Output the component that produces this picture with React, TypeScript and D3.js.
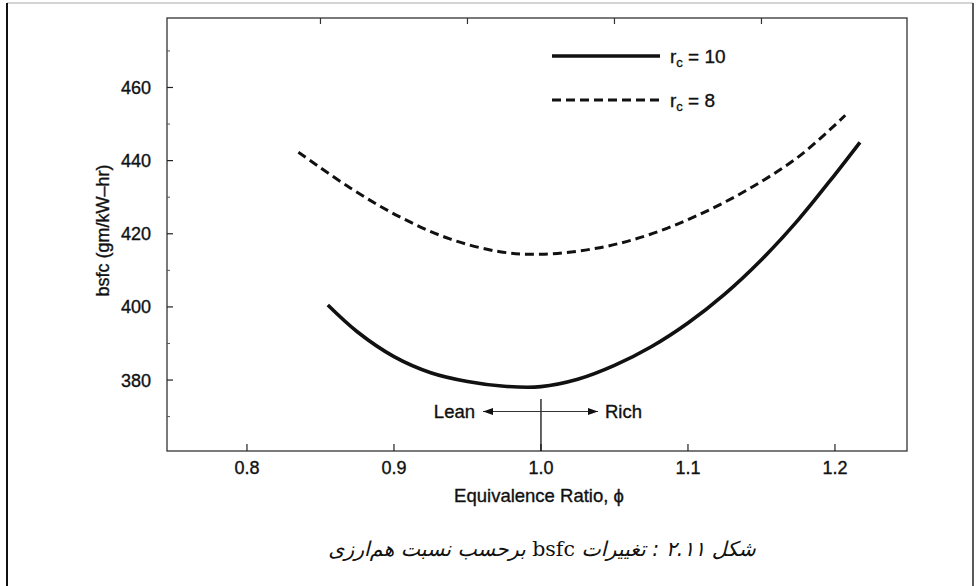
import React from "react"
import * as d3 from "d3"

// compression ratio 10 (solid) and 8 (dashed): [phi, bsfc]
const phiRc10 = [0.855, 0.875, 0.9, 0.925, 0.95, 0.975, 1.0, 1.025, 1.05, 1.075, 1.1, 1.125, 1.15, 1.175, 1.2, 1.217]
const bsfcRc10 = [400.5, 393.2, 386.4, 382, 379.6, 378.3, 378.2, 380.2, 384, 389.1, 395.6, 403.5, 412.9, 423.8, 436.2, 445]

const phiRc8 = [0.835, 0.87, 0.904, 0.938, 0.972, 1.0, 1.04, 1.074, 1.108, 1.142, 1.176, 1.207]
const bsfcRc8 = [442.3, 432.6, 424.6, 418.6, 415.1, 414.4, 416.2, 419.8, 425.3, 432.4, 441.3, 452.4]

const xTicks = [0.8, 0.9, 1.0, 1.1, 1.2]
const xTopTicks = [0.85, 0.95, 1.05, 1.15]
const yTicks = [380, 400, 420, 440, 460]
const yMinorTicks = [370, 390, 410, 430, 450, 470]

const captionWords = ["شکل", "۲.۱۱", ":", "تغییرات", "bsfc", "برحسب", "نسبت", "هم‌ارزی"]

const W = 977
const H = 586
const plot = { left: 167, right: 907, top: 18, bottom: 451 }
const font = "'Liberation Sans', Arial, Helvetica, sans-serif"
const ink = { fill: "#111", stroke: "#111", strokeWidth: 0.35 }

export default function App() {
  const x = d3.scaleLinear().domain([0.7456, 1.249]).range([plot.left, plot.right])
  const y = d3.scaleLinear().domain([360.6, 479]).range([plot.bottom, plot.top])

  const line = d3
    .line<[number, number]>()
    .x((d) => x(d[0]))
    .y((d) => y(d[1]))
    .curve(d3.curveCatmullRom.alpha(0.5))

  const solidPts = phiRc10.map((p, i) => [p, bsfcRc10[i]] as [number, number])
  const dashPts = phiRc8.map((p, i) => [p, bsfcRc8[i]] as [number, number])

  const arrowY = 411.5
  const midX = x(1.0)

  return (
    <div style={{ position: "fixed", left: 0, top: 0, width: W, height: H, background: "#fff" }}>
      <svg width={W} height={H} style={{ display: "block" }}>
        <defs>
          <marker id="ah" viewBox="0 0 10 10" refX="10" refY="5" markerWidth="10" markerHeight="10" orient="auto-start-reverse" markerUnits="userSpaceOnUse">
            <path d="M0,1.5 L10,5 L0,8.5 Z" fill="#111" />
          </marker>
        </defs>
        <rect x={0} y={0} width={W} height={H} fill="#fff" />
        {/* outer frame */}
        <line x1={7} y1={3} x2={973} y2={3} stroke="#aaa" strokeWidth={1.2} />
        <line x1={7} y1={3} x2={7} y2={H} stroke="#111" strokeWidth={2} />
        <line x1={973} y1={3} x2={973} y2={H} stroke="#222" strokeWidth={1.5} />

        {/* plot frame */}
        <rect x={plot.left} y={plot.top} width={plot.right - plot.left} height={plot.bottom - plot.top} fill="none" stroke="#333" strokeWidth={1.3} />

        {xTicks.map((t) => (
          <g key={"xt" + t}>
            <line x1={x(t)} x2={x(t)} y1={plot.bottom} y2={plot.bottom - 7} stroke="#222" strokeWidth={1.2} />
            <text x={x(t)} y={474} textAnchor="middle" fontFamily={font} fontSize={18} {...ink}>
              {t.toFixed(1)}
            </text>
          </g>
        ))}
        {xTopTicks.map((t) => (
          <line key={"xtt" + t} x1={x(t)} x2={x(t)} y1={plot.top} y2={plot.top + 6} stroke="#333" strokeWidth={1.2} />
        ))}
        {yTicks.map((t) => (
          <g key={"yt" + t}>
            <line x1={plot.left} x2={plot.left + 6} y1={y(t)} y2={y(t)} stroke="#222" strokeWidth={1.2} />
            <text x={151} y={y(t) + 6.5} textAnchor="end" fontFamily={font} fontSize={18} {...ink}>
              {t}
            </text>
          </g>
        ))}
        {yMinorTicks.map((t) => (
          <line key={"ym" + t} x1={plot.left} x2={plot.left + 3} y1={y(t)} y2={y(t)} stroke="#555" strokeWidth={1} />
        ))}

        <text x={539} y={502} textAnchor="middle" fontFamily={font} fontSize={18.5} {...ink}>
          Equivalence Ratio, ϕ
        </text>
        <text transform={`translate(109,${(plot.top + plot.bottom) / 2 - 4}) rotate(-90)`} textAnchor="middle" fontFamily={font} fontSize={18} {...ink}>
          bsfc (gm/kW–hr)
        </text>

        {/* curves */}
        <path d={line(dashPts) || ""} fill="none" stroke="#111" strokeWidth={3} strokeDasharray="9,5" />
        <path d={line(solidPts) || ""} fill="none" stroke="#111" strokeWidth={3.6} />

        {/* legend */}
        <line x1={552} x2={660} y1={56} y2={56} stroke="#111" strokeWidth={3.6} />
        <text x={670} y={63} fontFamily={font} fontSize={19} {...ink}>
          r<tspan fontSize={13} dy={4}>c</tspan>
          <tspan dy={-4}> = 10</tspan>
        </text>
        <line x1={552} x2={660} y1={100} y2={100} stroke="#111" strokeWidth={3} strokeDasharray="9,5" />
        <text x={670} y={107} fontFamily={font} fontSize={19} {...ink}>
          r<tspan fontSize={13} dy={4}>c</tspan>
          <tspan dy={-4}> = 8</tspan>
        </text>

        {/* lean / rich annotation */}
        <line x1={midX} x2={midX} y1={399} y2={plot.bottom} stroke="#111" strokeWidth={1.3} />
        <line x1={483} x2={598} y1={arrowY} y2={arrowY} stroke="#333" strokeWidth={1.1} markerStart="url(#ah)" markerEnd="url(#ah)" />
        <text x={475} y={arrowY + 6.5} textAnchor="end" fontFamily={font} fontSize={18.5} {...ink}>
          Lean
        </text>
        <text x={605} y={arrowY + 6.5} fontFamily={font} fontSize={18.5} {...ink}>
          Rich
        </text>

        {/* caption */}
        <text x={542} y={556} textAnchor="middle" direction="rtl" fontFamily="'DejaVu Sans', 'Noto Sans', sans-serif" fontSize={20.5} fontStyle="italic" fill="#111">
          {captionWords.map((w, i) => (
            <tspan
              key={i}
              fontFamily={w === "bsfc" ? "'DejaVu Serif', 'Liberation Serif', serif" : undefined}
              fontStyle={w === "bsfc" ? "normal" : undefined}
            >
              {(i > 0 ? " " : "") + w}
            </tspan>
          ))}
        </text>
      </svg>
    </div>
  )
}
